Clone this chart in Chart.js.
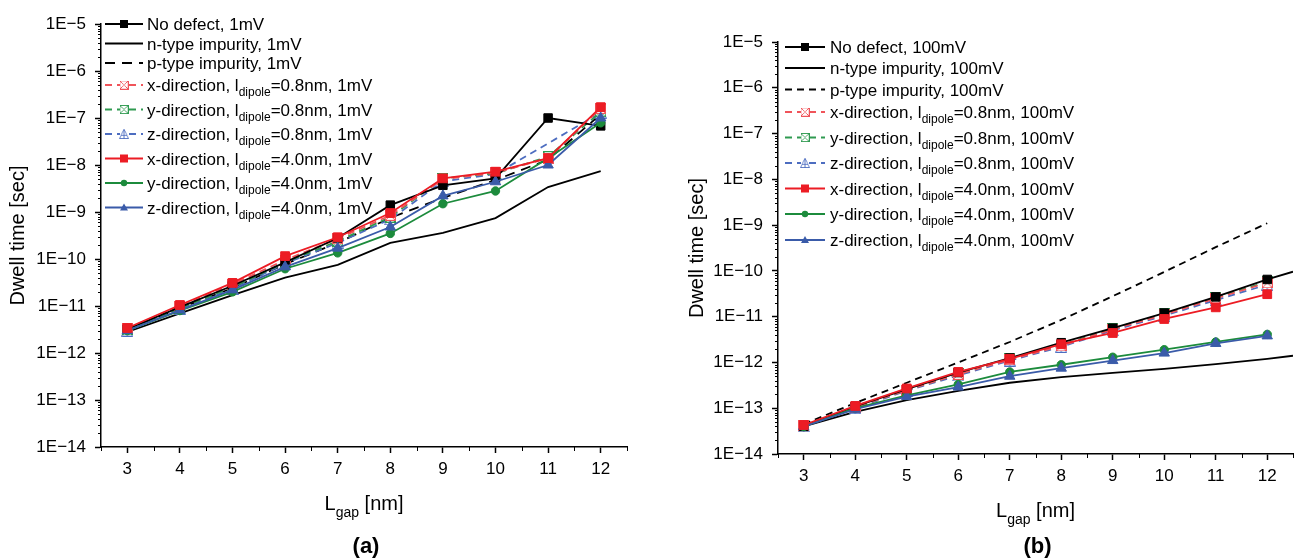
<!DOCTYPE html>
<html>
<head>
<meta charset="utf-8">
<script src="https://cdn.jsdelivr.net/npm/chart.js@4.4.0/dist/chart.umd.min.js"></script>
<style>
body{margin:0;background:#fff;width:1304px;height:560px;overflow:hidden}
.pane{position:absolute;top:0;width:652px;height:560px}
</style>
</head>
<body>
<div class="pane" style="left:0"><canvas id="chartA"></canvas></div>
<div class="pane" style="left:652px"><canvas id="chartB"></canvas></div>
<script>
// gap lengths (nm)
const gaps = [3, 4, 5, 6, 7, 8, 9, 10, 11, 12];
const gapsFit = [3, 4, 5, 6, 7, 8, 9, 10, 11, 12, 12.5];
const decades = [-14, -13, -12, -11, -10, -9, -8, -7, -6, -5];

const seriesNames = [
  'No defect', 'n-type impurity', 'p-type impurity',
  'x-direction, l_{dipole}=0.8nm', 'y-direction, l_{dipole}=0.8nm', 'z-direction, l_{dipole}=0.8nm',
  'x-direction, l_{dipole}=4.0nm', 'y-direction, l_{dipole}=4.0nm', 'z-direction, l_{dipole}=4.0nm'
];

/********* (a) 1mV *********/
const noDefect1 = [3.2e-12, 9.5e-12, 2.7e-11, 8.5e-11, 2.8e-10, 1.4e-9, 3.7e-9, 5.2e-9, 1.0e-7, 6.8e-8];
const nType1 = [2.8e-12, 7e-12, 1.7e-11, 4e-11, 7.5e-11, 2.2e-10, 3.6e-10, 7.4e-10, 3.4e-9, 7.4e-9];
const pType1 = [3.2e-12, 9e-12, 2.4e-11, 7.8e-11, 2.2e-10, 7.5e-10, 2.0e-9, 4.8e-9, 1.3e-8, 1.2e-7];
const xDip08_1 = [3.3e-12, 1.0e-11, 2.9e-11, 9.5e-11, 2.7e-10, 8.5e-10, 5.0e-9, 6.8e-9, 1.4e-8, 1.6e-7];
const yDip08_1 = [3.1e-12, 9e-12, 2.5e-11, 8.5e-11, 2.4e-10, 7.8e-10, 5.2e-9, 6.6e-9, 1.5e-8, 1.35e-7];
const zDip08_1 = [3e-12, 8.8e-12, 2.3e-11, 8e-11, 2.2e-10, 7e-10, 4.5e-9, 6.4e-9, null, 1.3e-7];
const xDip40_1 = [3.4e-12, 1.05e-11, 3.1e-11, 1.15e-10, 2.9e-10, 9.5e-10, 5.2e-9, 7.2e-9, 1.4e-8, 1.7e-7];
const yDip40_1 = [3e-12, 8e-12, 2e-11, 6.2e-11, 1.35e-10, 3.5e-10, 1.5e-9, 2.8e-9, 1.4e-8, 7.9e-8];
const zDip40_1 = [3e-12, 8.2e-12, 2.2e-11, 6.8e-11, 1.7e-10, 4.8e-10, 2.2e-9, 4.4e-9, 1.0e-8, 1.0e-7];

/********* (b) 100mV *********/
const noDefect100 = [4e-14, 1.1e-13, 2.6e-13, 6e-13, 1.25e-12, 2.7e-12, 5.6e-12, 1.2e-11, 2.7e-11, 6.5e-11, 9.6e-11];
const nType100 = [4e-14, 8.3e-14, 1.5e-13, 2.4e-13, 3.6e-13, 4.8e-13, 5.9e-13, 7.2e-13, 9.2e-13, 1.2e-12, 1.4e-12];
const pType100 = [4.5e-14, 1.3e-13, 3.6e-13, 1e-12, 2.8e-12, 8.5e-12, 2.8e-11, 9.5e-11, 3.3e-10, 1.1e-9];
const xDip08_100 = [4.2e-14, 1.05e-13, 2.5e-13, 5.5e-13, 1.15e-12, 2.3e-12, 5.3e-12, 1.1e-11, 2.5e-11, 5.5e-11];
const yDip08_100 = [4.2e-14, 1.05e-13, 2.5e-13, 5.6e-13, 1.2e-12, 2.4e-12, 5.5e-12, 1.15e-11, 2.6e-11, 5.8e-11];
const zDip08_100 = [4e-14, 1.0e-13, 2.4e-13, 5.2e-13, 1.1e-12, 2.2e-12, 5e-12, 1.05e-11, 2.3e-11, 5e-11];
const xDip40_100 = [4.3e-14, 1.12e-13, 2.7e-13, 6.2e-13, 1.2e-12, 2.5e-12, 4.4e-12, 8.9e-12, 1.6e-11, 3.1e-11];
const yDip40_100 = [4e-14, 1e-13, 1.9e-13, 3.3e-13, 6.2e-13, 8.9e-13, 1.3e-12, 1.9e-12, 2.8e-12, 4.1e-12];
const zDip40_100 = [4e-14, 9.5e-14, 1.8e-13, 2.9e-13, 5e-13, 7.5e-13, 1.1e-12, 1.6e-12, 2.6e-12, 3.8e-12];

const FONT = "'Liberation Sans', Arial, sans-serif";
const RED = '#ec1c24', GREEN = '#1c8b3c', BLUE = '#3a5ba9';
const RED_L = '#f0545a', GREEN_L = '#2f9a50', BLUE_L = '#4d6dc0';

// open markers of the 0.8nm series
function openMarker(kind, color, size) {
  const c = document.createElement('canvas');
  c.width = size; c.height = size;
  const g = c.getContext('2d');
  g.strokeStyle = color; g.fillStyle = '#fff'; g.lineWidth = 1;
  const a = 0.5, b = size - 0.5, m = size / 2;
  if (kind === 'box') {
    g.fillRect(a, a, b - a, b - a);
    g.strokeRect(a, a, b - a, b - a);
    g.beginPath(); g.moveTo(a, a); g.lineTo(b, b); g.moveTo(b, a); g.lineTo(a, b); g.stroke();
  } else {
    g.beginPath(); g.moveTo(m, a); g.lineTo(b, b); g.lineTo(a, b); g.closePath(); g.fill(); g.stroke();
    g.beginPath(); g.moveTo(m, a); g.lineTo(m, b); g.moveTo(a + 2, size * 0.62); g.lineTo(b - 2, size * 0.62); g.stroke();
  }
  return c;
}

const looks = [
  {color: '#000', point: 'rect', r: 6, dash: [], order: 3},
  {color: '#000', point: null, dash: [], order: 8},
  {color: '#000', point: null, dash: null, order: 7},
  {color: RED_L, point: openMarker('box', RED_L, 11), r: 5, dash: [7, 5], order: 4},
  {color: GREEN_L, point: openMarker('box', GREEN_L, 11), r: 5, dash: [7, 5], order: 5},
  {color: BLUE_L, point: openMarker('tri', BLUE_L, 12), r: 5, dash: [7, 5], order: 6},
  {color: RED, point: 'rect', r: 6.2, dash: [], order: 0},
  {color: GREEN, point: 'circle', r: 4.2, dash: [], order: 2},
  {color: BLUE, point: 'triangle', r: 6, dash: [], order: 1}
];

function buildDatasets(list, bias, pDash) {
  return list.map((vals, i) => {
    const lk = looks[i];
    const xs = vals.length > gaps.length ? gapsFit : gaps;
    return {
      label: seriesNames[i] + ', ' + bias,
      data: vals.map((v, j) => ({x: xs[j], y: v})),
      borderColor: lk.color,
      backgroundColor: lk.color,
      borderWidth: 1.8,
      borderDash: lk.dash || pDash,
      pointStyle: lk.point || 'circle',
      pointRadius: lk.point ? (c => (c.raw && c.raw.x > 12 ? 0 : lk.r)) : 0,
      pointHoverRadius: 0,
      pointBorderWidth: 1,
      pointBorderColor: lk.color,
      pointBackgroundColor: lk.color,
      spanGaps: true,
      order: lk.order,
      tension: 0
    };
  });
}

function legendMarker(ctx, style, r, x, y, color) {
  if (!style) return;
  ctx.save();
  ctx.fillStyle = color; ctx.strokeStyle = color; ctx.setLineDash([]);
  if (typeof style !== 'string') {
    ctx.fillStyle = '#fff';
    ctx.fillRect(x - 4, y - 4, 8, 8);
    ctx.drawImage(style, x - style.width / 2 + 1, y - style.height / 2 + 1, style.width - 2, style.height - 2);
  } else if (style === 'rect') {
    ctx.fillRect(x - r, y - r, 2 * r, 2 * r);
  } else if (style === 'circle') {
    ctx.beginPath(); ctx.arc(x, y, r, 0, Math.PI * 2); ctx.fill();
  } else {
    ctx.beginPath(); ctx.moveTo(x, y - r); ctx.lineTo(x + r, y + r * 0.75); ctx.lineTo(x - r, y + r * 0.75); ctx.closePath(); ctx.fill();
  }
  ctx.restore();
}

// text with _{sub} parts
function richText(ctx, str, x, base, size, subSize, subDrop, align) {
  const parts = str.split(/(_\{[^}]*\})/).filter(s => s.length);
  const pieces = parts.map(p => {
    const sub = p.startsWith('_{');
    const t = sub ? p.slice(2, -1) : p;
    ctx.font = (sub ? subSize : size) + 'px ' + FONT;
    return {t, sub, w: ctx.measureText(t).width};
  });
  const total = pieces.reduce((s, p) => s + p.w, 0);
  let cx = align === 'center' ? x - total / 2 : x;
  ctx.textAlign = 'left'; ctx.textBaseline = 'alphabetic';
  pieces.forEach(p => {
    ctx.font = (p.sub ? subSize : size) + 'px ' + FONT;
    ctx.fillText(p.t, cx, p.sub ? base + subDrop : base);
    cx += p.w;
  });
}

const extras = {
  id: 'extras',
  afterDraw(chart, args, o) {
    const ctx = chart.ctx, xs = chart.scales.x, ys = chart.scales.y;
    const area = chart.chartArea;
    ctx.save();
    ctx.strokeStyle = '#000'; ctx.lineWidth = 1;
    // minor ticks
    ctx.beginPath();
    decades.forEach(e => {
      if (e === -5) return;
      for (let k = 2; k < 10; k++) {
        const py = Math.round(ys.getPixelForValue(k * Math.pow(10, e))) + 0.5;
        ctx.moveTo(area.left, py); ctx.lineTo(area.left - 3, py);
      }
    });
    for (let v = 2.5; v <= 12.5; v += 1) {
      const px = Math.round(xs.getPixelForValue(v)) + 0.5;
      ctx.moveTo(px, area.bottom); ctx.lineTo(px, area.bottom + 4);
    }
    ctx.stroke();

    // legend
    ctx.fillStyle = '#000';
    chart.data.datasets.forEach((ds, i) => {
      const lk = looks[i];
      const y = o.rows[i];
      ctx.save();
      ctx.strokeStyle = lk.color; ctx.lineWidth = 1.8;
      ctx.setLineDash(lk.dash || o.pDash);
      ctx.beginPath(); ctx.moveTo(o.x0, y); ctx.lineTo(o.x1, y); ctx.stroke();
      ctx.restore();
      legendMarker(ctx, lk.point, lk.point === 'circle' ? 3.2 : 4, (o.x0 + o.x1) / 2, y, lk.color);
      ctx.fillStyle = '#000';
      richText(ctx, ds.label, o.textX, y + 6, 17, 12, 5, 'left');
    });

    // x title and panel letter
    const cx = (area.left + area.right) / 2;
    ctx.fillStyle = '#000';
    richText(ctx, 'L_{gap} [nm]', cx, area.bottom + 63, 20, 14, 7, 'center');
    ctx.font = 'bold 22px ' + FONT;
    ctx.textAlign = 'center'; ctx.textBaseline = 'alphabetic';
    ctx.fillText(o.letter, cx + 2, 553);
    ctx.restore();
  }
};

function makeChart(id, datasets, lay) {
  return new Chart(document.getElementById(id), {
    type: 'line',
    data: {datasets: datasets},
    plugins: [extras],
    options: {
      responsive: true,
      maintainAspectRatio: false,
      animation: false,
      layout: {padding: lay.padding},
      plugins: {
        legend: {display: false},
        tooltip: {enabled: false},
        extras: lay.legend
      },
      scales: {
        x: {
          type: 'linear', min: 2.5, max: 12.5,
          afterBuildTicks: s => { s.ticks = gaps.map(v => ({value: v})); },
          afterFit: s => { s.height = lay.xH; },
          border: {color: '#000', width: 1.5},
          grid: {drawOnChartArea: false, drawTicks: true, tickLength: 6, tickWidth: 1.5, tickColor: '#000'},
          ticks: {color: '#000', font: {family: FONT, size: 17}, padding: 6, maxRotation: 0, autoSkip: false}
        },
        y: {
          type: 'logarithmic', min: 1e-14, max: 1e-5,
          afterBuildTicks: s => { s.ticks = decades.map(e => ({value: Math.pow(10, e)})); },
          afterFit: s => { s.width = lay.yW; },
          border: {color: '#000', width: 1.5},
          grid: {drawOnChartArea: false, drawTicks: true, tickLength: 6, tickWidth: 1.5, tickColor: '#000'},
          ticks: {
            color: '#000', font: {family: FONT, size: 17}, padding: 9, autoSkip: false,
            callback: v => '1E\u2212' + Math.round(-Math.log10(v))
          },
          title: {display: true, text: 'Dwell time [sec]', color: '#000', font: {family: FONT, size: 20}, padding: {top: 6, bottom: 0}}
        }
      }
    }
  });
}

makeChart('chartA',
  buildDatasets([noDefect1, nType1, pType1, xDip08_1, yDip08_1, zDip08_1, xDip40_1, yDip40_1, zDip40_1], '1mV', [10, 7]),
  {
    padding: {left: 0, right: 25, top: 24, bottom: 0}, yW: 101, xH: 113,
    legend: {x0: 105, x1: 143, textX: 147, rows: [24, 43.5, 63, 85, 109.5, 134, 158.5, 183, 207.5], pDash: [10, 7], letter: '(a)'}
  });

makeChart('chartB',
  buildDatasets([noDefect100, nType100, pType100, xDip08_100, yDip08_100, zDip08_100, xDip40_100, yDip40_100, zDip40_100], '100mV', [7, 5]),
  {
    padding: {left: 27, right: 11, top: 42, bottom: 0}, yW: 99, xH: 106,
    legend: {x0: 133, x1: 173, textX: 178, rows: [47, 68, 89.5, 112, 137.5, 163, 188.5, 214, 240], pDash: [7, 5], letter: '(b)'}
  });
</script>
</body>
</html>
